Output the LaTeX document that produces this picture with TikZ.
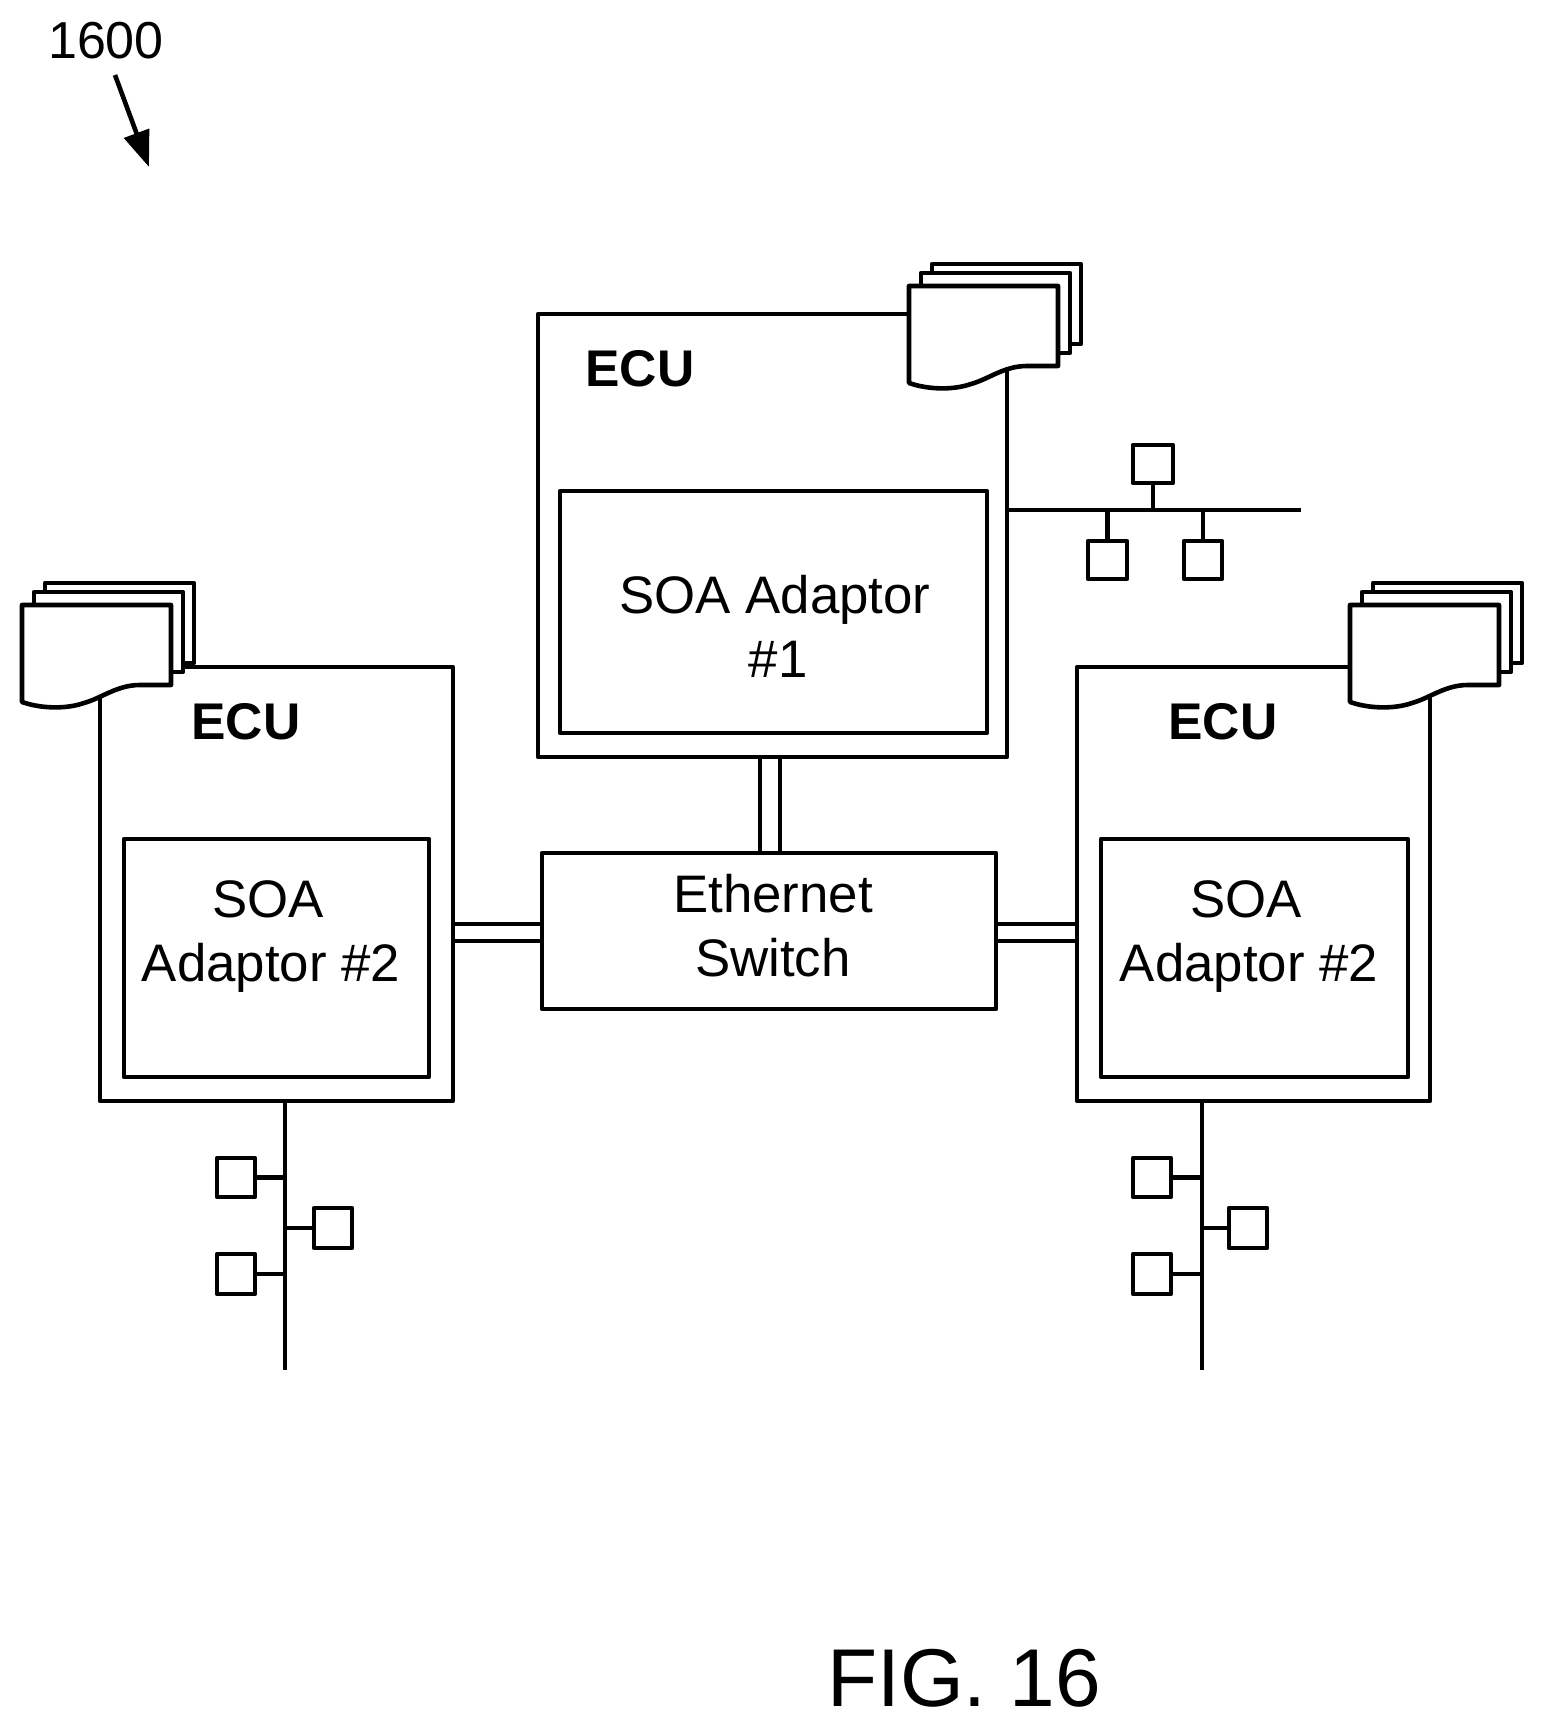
\documentclass[tikz,border=0pt]{standalone}
\usepackage{fontspec}
\setmainfont{Liberation Sans}
\usetikzlibrary{arrows.meta}
\newcommand\boxat[6][]{\node[boxs,#1,minimum width={(#5-#3)*0.5pt},minimum height={(#6-#4)*0.5pt}] (#2) at ({(#3+#5)/2},{(#4+#6)/2}) {};}
\tikzset{
  x=0.5pt,y=-0.5pt,
  lw/.style={line width=2.3pt,line join=round},
  boxs/.style={lw,draw=black,fill=white,rectangle,inner sep=0pt,outer sep=0pt},
  wire/.style={lw,draw=black},
  lbl/.style={font=\fontsize{26.4}{32}\selectfont,align=center,anchor=base,inner sep=0pt,outer sep=0pt},
  ecut/.style={font=\fontsize{25.8}{30}\selectfont\bfseries,anchor=base,inner sep=0pt,outer sep=0pt},
  docstack/.pic={
    \draw[lw,fill=white] (23,-22) rectangle (172,58);
    \draw[lw,fill=white] (12,-13) rectangle (161,67);
    \draw[lw,fill=white] (0,0) -- (149,0) -- (149,80) -- (118,80)
      .. controls (95,80) and (80,93) .. (62,98)
      .. controls (45,104) and (20,104) .. (0,97) -- cycle;
  }
}
\begin{document}
\begin{tikzpicture}
\useasboundingbox (0,0) rectangle (1544,1728);
% ECU boxes
\boxat{ecuT}{538}{314}{1007}{757}
\boxat{adT}{560}{491}{987}{733}
\boxat{ecuL}{100}{667}{453}{1101}
\boxat{adL}{124}{839}{429}{1077}
\boxat{ecuR}{1077}{667}{1430}{1101}
\boxat{adR}{1101}{839}{1408}{1077}
\boxat{sw}{542}{853}{996}{1009}
% document stacks
\pic at (909,286) {docstack};
\pic at (22,605) {docstack};
\pic at (1350,605) {docstack};
% double links
\coordinate (h1) at (0,924);
\coordinate (h2) at (0,941);
\coordinate (v1) at (760,0);
\coordinate (v2) at (780,0);
\draw[wire] (ecuL.east |- h1) -- (sw.west |- h1);
\draw[wire] (ecuL.east |- h2) -- (sw.west |- h2);
\draw[wire] (sw.east |- h1) -- (ecuR.west |- h1);
\draw[wire] (sw.east |- h2) -- (ecuR.west |- h2);
\draw[wire] (v1 |- ecuT.south) -- (v1 |- sw.north);
\draw[wire] (v2 |- ecuT.south) -- (v2 |- sw.north);
% top bus
\coordinate (busTend) at (1301,510);
\boxat{t1}{1133}{445}{1173}{483}
\boxat{t2}{1088}{541}{1127}{579}
\boxat{t3}{1184}{541}{1222}{579}
\draw[wire] (ecuT.east |- busTend) -- (busTend);
\draw[wire] (t1.south) -- (t1.south |- busTend);
\draw[wire] (t2.north) -- (t2.north |- busTend);
\draw[wire] (t3.north) -- (t3.north |- busTend);
% left bus
\coordinate (busLend) at (285,1370);
\boxat{l1}{217}{1158}{255}{1197}
\boxat{l2}{314}{1208}{352}{1248}
\boxat{l3}{217}{1254}{255}{1294}
\draw[wire] (busLend |- ecuL.south) -- (busLend);
\draw[wire] (l1.east) -- (l1.east -| busLend);
\draw[wire] (l2.west) -- (l2.west -| busLend);
\draw[wire] (l3.east) -- (l3.east -| busLend);
% right bus
\coordinate (busRend) at (1202,1370);
\boxat{r1}{1133}{1158}{1171}{1197}
\boxat{r2}{1229}{1208}{1267}{1248}
\boxat{r3}{1133}{1254}{1171}{1294}
\draw[wire] (busRend |- ecuR.south) -- (busRend);
\draw[wire] (r1.east) -- (r1.east -| busRend);
\draw[wire] (r2.west) -- (r2.west -| busRend);
\draw[wire] (r3.east) -- (r3.east -| busRend);
% texts
\node[ecut] (tE1) at (640,386) {ECU};
\node[ecut] (tE2) at (246,739) {ECU};
\node[ecut] (tE3) at (1223,739) {ECU};
\node[lbl] (tA1) at (775,677) {SOA Adaptor\\\hspace{3pt}\#1};
\node[lbl] (tA2) at (271,981) {\hspace{-3pt}SOA\\Adaptor \#2};
\node[lbl] (tA3) at (1249,981) {\hspace{-3pt}SOA\\Adaptor \#2};
\node[lbl] (tS) at (773,976) {Ethernet\\Switch};
\node[lbl,font=\fontsize{26}{32}\selectfont] (ref) at (106,59) {1600};
\node[font=\fontsize{41}{48}\selectfont,anchor=base,inner sep=0pt] (fig) at (964,1706) {FIG. 16};
% reference arrow
\coordinate (arA) at (115,75);
\coordinate (arB) at (149,167);
\draw[lw,-{Triangle[length=18pt,width=13pt]}] (arA) -- (arB);
\end{tikzpicture}
\end{document}
